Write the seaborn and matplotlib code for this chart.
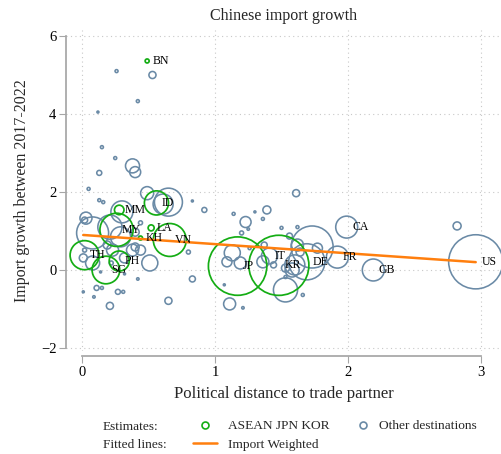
import numpy as np
import pandas as pd
import matplotlib
matplotlib.use("Agg")
import matplotlib.pyplot as plt
from matplotlib.lines import Line2D
import seaborn as sns

# ASEAN, Japan and Korea: political distance, import growth 2017-2022, imports 2017 (weight)
asean_labels = ["BN", "MM", "ID", "MY", "LA", "KH", "VN", "TH", "SG", "PH", "JP", "KR"]
asean_distance = [0.49, 0.28, 0.56, 0.26, 0.52, 0.44, 0.66, 0.02, 0.18, 0.28, 1.17, 1.48]
asean_growth = [5.36, 1.54, 1.72, 1.03, 1.08, 0.82, 0.77, 0.38, 0.00, 0.23, 0.10, 0.12]
asean_imports = [0.8, 4.5, 29, 55, 1.8, 0.8, 54, 42, 38, 20, 170, 180]

# Other destinations
other_distance = [0.26, 0.53, 0.42, 0.12, 0.15, 0.25, 0.38, 0.40, 0.13, 0.05, 0.49, 0.65,
                  0.61, 0.13, 0.16, 0.83, 0.92, 1.61, 1.14, 1.39, 1.30, 1.23, 1.36, 1.62,
                  1.99, 2.82, 0.03, 0.02, 0.08, 0.21, 0.29, 0.30, 0.38, 0.40, 0.51, 0.44,
                  0.01, 0.08, 0.11, 0.15, 0.09, 0.01, 0.27, 0.31, 0.21, 0.14, 0.42, 0.32,
                  0.83, 0.80, 0.65, 1.11, 1.21, 1.07, 1.13, 1.09, 1.41, 1.19, 1.25, 1.20,
                  1.36, 1.44, 1.53, 1.69, 1.66, 1.62, 1.92, 1.56, 2.19, 2.96, 1.73, 1.77,
                  1.60, 1.58, 1.53, 1.64, 1.53, 1.50, 1.37, 1.26, 0.02, 0.19, 0.44, 0.23,
                  0.32, 0.22, 0.40]
other_growth = [5.10, 5.00, 4.33, 4.05, 3.15, 2.87, 2.67, 2.51, 2.49, 2.08, 1.97, 1.74,
                1.69, 1.79, 1.74, 1.77, 1.54, 1.97, 1.44, 1.54, 1.49, 1.23, 1.31, 1.10,
                1.10, 1.13, 1.33, 1.28, 0.95, 1.10, 0.85, 1.49, 0.51, 0.59, 0.18, 0.51,
                0.31, 0.18, -0.46, -0.46, -0.69, -0.56, -0.56, -0.56, -0.92, -0.05, -0.23, -0.10,
                -0.23, 0.46, -0.79, -0.87, -0.97, -0.38, 0.44, 0.21, 0.36, 0.18, 1.05, 0.95,
                0.21, 0.13, -0.51, 0.21, -0.64, 0.64, 0.33, 0.87, 0.00, 0.21, 0.59, 0.56,
                0.13, 0.00, -0.18, 0.46, 0.05, 1.08, 0.64, 0.56, 0.51, 0.64, 1.21, 0.51,
                0.31, 0.18, 0.97]
other_imports = [0.45, 2.5, 0.45, 0.2, 0.45, 0.45, 9.8, 6.0, 1.25, 0.45, 8.5, 39,
                 20, 0.45, 0.45, 0.2, 1.25, 2.5, 0.45, 3.2, 0.2, 6.0, 0.45, 0.45,
                 24, 3.2, 7.2, 1.8, 51, 29, 20, 24, 7.2, 3.2, 12.8, 5.0,
                 3.2, 9.8, 1.25, 0.45, 0.3, 0.2, 1.25, 0.45, 2.5, 0.2, 0.3, 0.2,
                 1.8, 0.8, 2.5, 7.2, 0.3, 0.2, 12.8, 5.0, 12.8, 7.2, 0.3, 0.8,
                 7.2, 1.8, 29, 65, 0.45, 7.2, 24, 1.8, 24, 146, 88, 5.0,
                 20, 9.8, 0.45, 3.2, 3.2, 0.45, 1.8, 0.45, 0.8, 3.2, 0.8, 7.2,
                 5.0, 0.8, 3.2]
# Labelled partners among the other destinations (position in the lists above)
other_named = {"CA": 24, "IT": 56, "DE": 63, "FR": 66, "GB": 68, "US": 69}

# Import-weighted linear fit
fit_intercept = 0.90
fit_slope = -0.236

other_labels = [""] * len(other_distance)
for code, idx in other_named.items():
    other_labels[idx] = code

asean = pd.DataFrame({"label": asean_labels, "distance": asean_distance,
                      "growth": asean_growth, "imports": asean_imports})
other = pd.DataFrame({"label": other_labels, "distance": other_distance,
                      "growth": other_growth, "imports": other_imports})

green = "#14ad14"
slate = "#6a8aa6"
orange = "#ff7f0e"
axis_gray = "#a6a6a6"

sns.set_theme(style="white")
plt.rcParams["font.family"] = ["Liberation Serif", "DejaVu Serif"]

fig = plt.figure(figsize=(5.01, 4.54), dpi=100)
ax = fig.add_axes([66 / 501, 1 - 351 / 454, 435 / 501, 321 / 454])

wmax = max(max(asean_imports), max(other_imports))
size_kws = dict(size="imports", sizes=(0, 10.4 * wmax), size_norm=(0, wmax), legend=False)

sns.scatterplot(data=other, x="distance", y="growth", ax=ax, marker="o",
                facecolors="none", edgecolor=slate, linewidth=1.15, **size_kws)
sns.scatterplot(data=asean, x="distance", y="growth", ax=ax, marker="o",
                facecolors="none", edgecolor=green, linewidth=1.25, **size_kws)

x_all = pd.concat([asean["distance"], other["distance"]])
x_fit = np.array([x_all.min(), x_all.max()])
ax.plot(x_fit, fit_intercept + fit_slope * x_fit, color=orange, lw=1.8, zorder=5)

for df in (asean, other):
    for _, row in df[df["label"] != ""].iterrows():
        ax.annotate(row["label"], (row["distance"], row["growth"]), xytext=(4, 0),
                    textcoords="offset points", ha="left", va="center",
                    fontsize=8.5, color="black", zorder=6)

ax.set_xlim(-0.12, 3.15)
ax.set_ylim(-2.077, 6.154)
ax.set_xticks([0, 1, 2, 3])
ax.set_yticks([-2, 0, 2, 4, 6])
ax.grid(True, linestyle=(0, (1, 3)), color="#c8c8c8", linewidth=0.8)
ax.set_facecolor("white")

for side in ("top", "right"):
    ax.spines[side].set_visible(False)
ax.spines["left"].set_color(axis_gray)
ax.spines["bottom"].set_color(axis_gray)
ax.spines["left"].set_bounds(-2, 6)
ax.spines["bottom"].set_bounds(0, 3)
ax.spines["bottom"].set_position(("outward", 3.6))
ax.tick_params(axis="both", which="major", length=5, width=0.8, color=axis_gray,
               labelsize=10.5, labelcolor="black", pad=2, bottom=True, left=True)

ax.set_title("Chinese import growth", fontsize=11.5, pad=7)
ax.set_xlabel("Political distance to trade partner", fontsize=12, labelpad=5)
ax.set_ylabel("Import growth between 2017-2022", fontsize=11.5, labelpad=8)

estimate_handles = [
    Line2D([], [], marker="o", linestyle="none", markerfacecolor="none",
           markeredgecolor=green, markersize=5, markeredgewidth=1.2, label="ASEAN JPN KOR"),
    Line2D([], [], color=orange, lw=1.8, label="Import Weighted"),
]
other_handles = [
    Line2D([], [], marker="o", linestyle="none", markerfacecolor="none",
           markeredgecolor=slate, markersize=5, markeredgewidth=1.2, label="Other destinations"),
]
legend_kws = dict(loc="upper left", frameon=False, fontsize=9.6, labelspacing=0.45,
                  borderpad=0, borderaxespad=0)
fig.legend(handles=estimate_handles, bbox_to_anchor=(193 / 501, 1 - 420 / 454),
           handlelength=1.8, handletextpad=0.82, **legend_kws)
fig.legend(handles=other_handles, bbox_to_anchor=(357 / 501, 1 - 420 / 454),
           handlelength=0.94, handletextpad=0.68, **legend_kws)
fig.text(103 / 501, 1 - 426.5 / 454, "Estimates:", fontsize=9.6, va="center", ha="left")
fig.text(103 / 501, 1 - 444.5 / 454, "Fitted lines:", fontsize=9.6, va="center", ha="left")

fig.savefig("out.png", dpi=100)
